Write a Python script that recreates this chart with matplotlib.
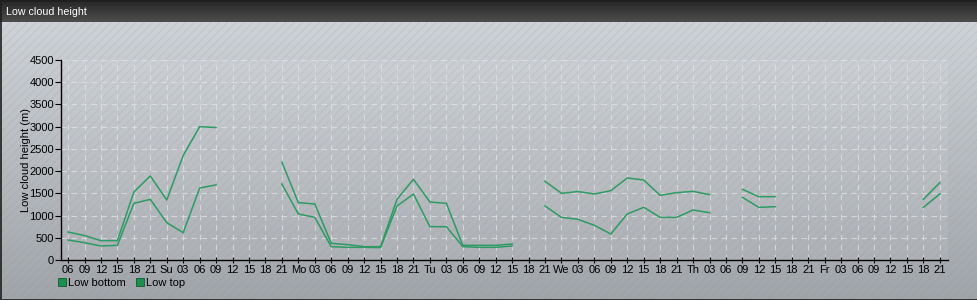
import matplotlib
matplotlib.use("Agg")
import matplotlib.pyplot as plt
import numpy as np
from matplotlib.patches import Rectangle
from matplotlib.lines import Line2D

nan = np.nan

# tick labels, every 3 hours starting Saturday 06
tick_labels = ["06", "09", "12", "15", "18", "21",
               "Su", "03", "06", "09", "12", "15", "18", "21",
               "Mo", "03", "06", "09", "12", "15", "18", "21",
               "Tu", "03", "06", "09", "12", "15", "18", "21",
               "We", "03", "06", "09", "12", "15", "18", "21",
               "Th", "03", "06", "09", "12", "15", "18", "21",
               "Fr", "03", "06", "09", "12", "15", "18", "21"]

low_top = [630, 550, 435, 435, 1530, 1890, 1350, 2350, 3000, 2980,
           nan, nan, nan, 2200, 1290, 1260, 375, 345, 300, 300,
           1365, 1815, 1305, 1275, 330, 330, 330, 360, nan, 1770,
           1500, 1540, 1485, 1560, 1845, 1800, 1455, 1515, 1545, 1470,
           nan, 1590, 1425, 1425, nan, nan, nan, nan, nan, nan,
           nan, nan, 1365, 1740]

low_bottom = [450, 390, 315, 330, 1275, 1365, 840, 615, 1620, 1690,
              nan, nan, nan, 1710, 1035, 960, 300, 285, 285, 280,
              1215, 1485, 750, 750, 300, 285, 285, 315, nan, 1215,
              960, 915, 780, 585, 1035, 1185, 960, 960, 1125, 1065,
              nan, 1410, 1185, 1200, nan, nan, nan, nan, nan, nan,
              nan, nan, 1185, 1485]

series_names = ["Low bottom", "Low top"]

W, H = 978, 300
plt.rcParams['font.family'] = ['Liberation Sans', 'DejaVu Sans']
plt.rcParams['hatch.linewidth'] = 0.6
fs = 8

fig = plt.figure(figsize=(W / 100, H / 100), dpi=100)

# background: gradient + diagonal stripes
bg = fig.add_axes([0, 0, 1, 1])
bg.set_xlim(0, W)
bg.set_ylim(H, 0)
bg.axis("off")
grad = np.linspace(0, 1, 256).reshape(-1, 1)
top_c = np.array([0.81, 0.825, 0.84])
bot_c = np.array([0.63, 0.645, 0.66])
img = top_c[None, None, :] * (1 - grad[:, :, None]) + bot_c[None, None, :] * grad[:, :, None]
bg.imshow(img, extent=[0, W, H, 22], aspect="auto", zorder=0)
bg.add_patch(Rectangle((0, 22), W, H - 22, facecolor="none",
                       edgecolor=(0.55, 0.6, 0.68, 0.25), hatch="////", linewidth=0, zorder=1))
# title bar
tb = np.linspace(0, 1, 64).reshape(-1, 1)
tc1 = np.array([0.15, 0.15, 0.15])
tc2 = np.array([0.30, 0.30, 0.30])
timg = tc1[None, None, :] * (1 - tb[:, :, None]) + tc2[None, None, :] * tb[:, :, None]
bg.imshow(timg, extent=[0, W, 22, 0], aspect="auto", zorder=2)
bg.text(6, 12, "Low cloud height", color="white", fontsize=7.7, va="center", ha="left", zorder=3)
bg.add_patch(Rectangle((0.5, 0.5), W - 1, H - 1, facecolor="none", edgecolor="#1e1e1e", linewidth=1.2, zorder=4))

# main plot
ax = fig.add_axes([61 / W, 40 / H, (948 - 61) / W, 200 / H])
ax.set_facecolor((1, 1, 1, 0.07))
x = np.arange(len(tick_labels))
line_color = "#2e9a64"
ax.plot(x, low_top, color=line_color, linewidth=1.1)
ax.plot(x, low_bottom, color=line_color, linewidth=1.1)

ax.set_xlim(-0.43, 53.5)
ax.set_ylim(0, 4500)
ax.set_yticks(np.arange(0, 4501, 500))
ax.set_xticks(x)
ax.set_xticklabels(tick_labels)
ax.tick_params(axis="x", direction="inout", length=5, pad=1, labelsize=fs, colors="black")
ax.tick_params(axis="y", direction="out", length=4, pad=1, labelsize=fs)
ax.grid(True, color="#e4e6e8", linestyle=(0, (5, 4)), linewidth=0.8, alpha=0.7)
ax.set_axisbelow(True)
for s in ["top", "right"]:
    ax.spines[s].set_visible(False)
ax.spines["left"].set_linewidth(1.0)
ax.spines["bottom"].set_linewidth(1.0)
ax.set_ylabel("Low cloud height (m)", fontsize=fs, labelpad=-1)

handles = [Line2D([], [], linestyle="none", marker="s", markersize=5.5,
                  markerfacecolor="#1a8f4e", markeredgecolor="#0f5a30", markeredgewidth=0.6)
           for _ in series_names]
leg = ax.legend(handles, series_names, loc="upper left", bbox_to_anchor=(-0.003, -0.09),
                frameon=False, ncol=2, fontsize=fs, handlelength=0.6, handletextpad=0.25,
                columnspacing=1.0, borderaxespad=0, borderpad=0)

fig.savefig("out.png", dpi=100)
